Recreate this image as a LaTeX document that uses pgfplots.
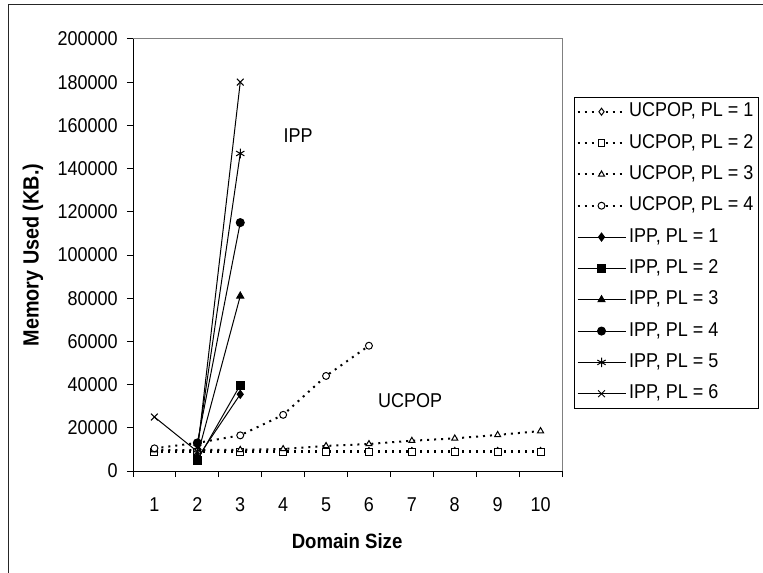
\documentclass[border=0pt]{standalone}
\usepackage{fontspec}
\setmainfont{Liberation Sans}[FakeStretch=0.9]
\usepackage{pgfplots}
\pgfplotsset{compat=1.18}
\newcommand{\fs}{\fontsize{15}{17}\selectfont}
\begin{document}
\begin{tikzpicture}
\draw[line width=0.75pt, black!85] (6pt,-3.75pt) rectangle (600pt,-460pt);
\begin{axis}[
  at={(99.75pt,-353.25pt)}, anchor=south west,
  scale only axis, width=321.75pt, height=324pt,
  xmin=0.5, xmax=10.5, ymin=0, ymax=200000,
  axis x line*=bottom, axis y line*=left,
  axis line style={black, line width=0.75pt},
  xtick={0.5,1.5,...,10.5},
  x tick label as interval,
  xticklabels={1,2,3,4,5,6,7,8,9,10},
  ytick={0,20000,...,200000},
  scaled y ticks=false,
  tick align=outside, major tick length=4.5pt,
  tick style={black, line width=0.75pt},
  ticklabel style={font=\fs},
  xticklabel style={yshift=-12pt},
  yticklabel style={xshift=-3.5pt},
  /pgf/number format/.cd, fixed, 1000 sep={}, assume math mode=true,
  /pgfplots/.cd,
  xlabel={\textbf{Domain Size}},
  ylabel={\textbf{Memory Used (KB.)}},
  xlabel style={font=\fontsize{15.5}{17}\selectfont, at={(axis description cs:0.499,-0.162)}, anchor=center},
  ylabel style={font=\fontsize{16.5}{18}\selectfont, at={(axis description cs:-0.233,0.5)}, anchor=center},
  clip=false,
  legend style={at={(1.028,0.866)}, anchor=north west, draw=black, line width=0.75pt,
    font=\fs, row sep=5pt, inner sep=1.5pt,
    nodes={inner sep=2pt, text height=11pt, text depth=3.5pt}},
  legend cell align=left,
  legend image code/.code={\draw[mark repeat=2,mark phase=2] plot coordinates {(0pt,0pt) (18pt,0pt) (36pt,0pt)};},
  ucp/.style={black, line width=1.5pt, dash pattern=on 1.5pt off 3.75pt,
    mark options={solid, fill=white, line width=0.75pt}, mark size=2.6pt},
  ipp/.style={black, line width=0.75pt, mark options={solid, fill=black}, mark size=3pt},
]
\draw[gray, line width=0.75pt] (rel axis cs:0,1) -- (rel axis cs:1,1) -- (rel axis cs:1,0);
\addplot[ucp, mark=diamond*] coordinates {(1,9300) (2,9300) (3,9300) (4,9300) (5,9300) (6,9300) (7,9300) (8,9300) (9,9300) (10,9300)};
\addlegendentry{UCPOP, PL = 1}
\addplot[ucp, mark=square*] coordinates {(1,9000) (2,9000) (3,9000) (4,9000) (5,9000) (6,9000) (7,9000) (8,9000) (9,9000) (10,9000)};
\addlegendentry{UCPOP, PL = 2}
\addplot[ucp, mark=triangle*] coordinates {(1,9700) (2,9700) (3,9800) (4,10200) (5,11600) (6,12500) (7,14000) (8,15100) (9,16700) (10,18500)};
\addlegendentry{UCPOP, PL = 3}
\addplot[ucp, mark=*] coordinates {(1,10500) (2,13000) (3,16500) (4,26000) (5,44000) (6,58000)};
\addlegendentry{UCPOP, PL = 4}
\addplot[ipp, mark=diamond*] coordinates {(2,6000) (3,35500)};
\addlegendentry{IPP, PL = 1}
\addplot[ipp, mark=square*] coordinates {(2,5000) (3,39800)};
\addlegendentry{IPP, PL = 2}
\addplot[ipp, mark=triangle*] coordinates {(2,7000) (3,81000)};
\addlegendentry{IPP, PL = 3}
\addplot[ipp, mark=*] coordinates {(2,13000) (3,115000)};
\addlegendentry{IPP, PL = 4}
\addplot[ipp, mark=asterisk, mark size=3.6pt] coordinates {(2,11000) (3,147000)};
\addlegendentry{IPP, PL = 5}
\addplot[ipp, mark=x, mark size=3.6pt] coordinates {(1,25000) (2,9000) (3,180000)};
\addlegendentry{IPP, PL = 6}
\node[font=\fs] at (axis cs:4.35,155100) {IPP};
\node[font=\fs] at (axis cs:6.96,32400) {UCPOP};
\end{axis}
\pgfresetboundingbox
\useasboundingbox (0,0) rectangle (572.25pt,-429.75pt);
\end{tikzpicture}
\end{document}
